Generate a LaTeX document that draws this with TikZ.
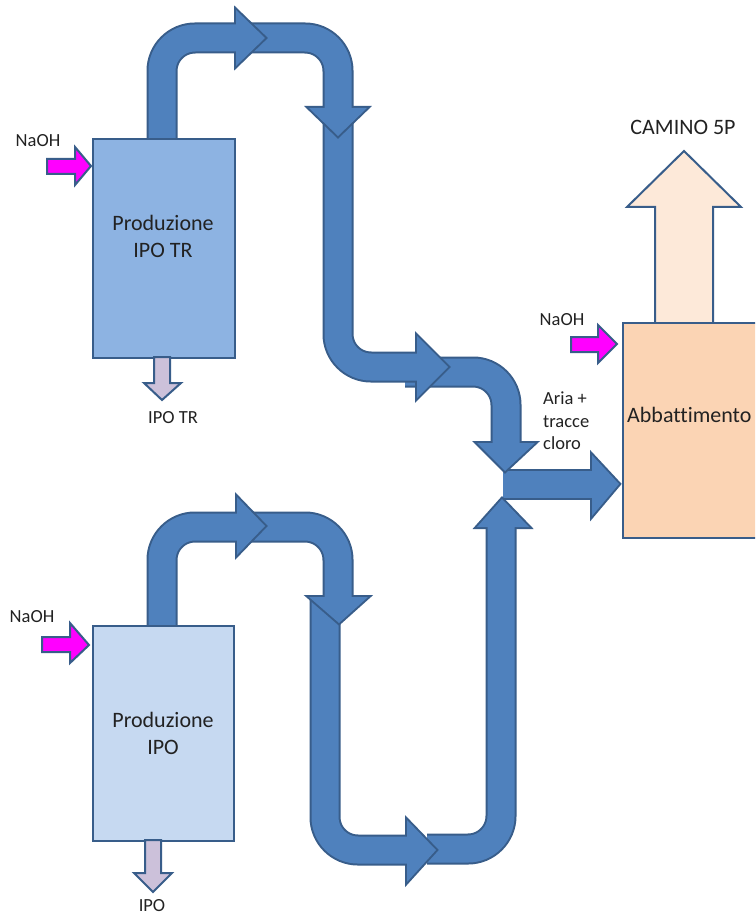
\documentclass[tikz,border=0pt]{standalone}
\usepackage{fontspec}
\setmainfont{Carlito}[Ligatures=NoCommon, RawFeature={-liga;-clig;-calt}]
\definecolor{pipefill}{HTML}{4F81BD}
\definecolor{pipeline}{HTML}{385D8A}
\definecolor{boxA}{HTML}{8DB3E2}
\definecolor{boxB}{HTML}{C6D9F1}
\definecolor{abbfill}{HTML}{FBD4B4}
\definecolor{camfill}{HTML}{FDE9D9}
\definecolor{naohfill}{HTML}{FF00FF}
\definecolor{ipofill}{HTML}{CCC1DA}
\definecolor{txt}{HTML}{222222}
\newcommand{\bentpipe}[2]{%
  \draw[line width=31pt, pipeline, rounded corners=33pt] #1;
  \filldraw[pipeline, line width=4pt, line join=miter] #2 -- cycle;
  \draw[line width=27pt, pipefill, rounded corners=33pt] #1;
  \fill[pipefill] #2 -- cycle;
}
\tikzset{
  unitbox/.style={draw=pipeline, line width=2pt},
  smallarrow/.style={draw=pipeline, line width=2pt, line join=miter},
  bigtext/.style={text=txt, font=\fontsize{22}{27}\selectfont, align=center, inner sep=0pt},
  smalltext/.style={text=txt, font=\fontsize{18.5}{22.5}\selectfont, inner sep=0pt},
}
\begin{document}
\begin{tikzpicture}[x=1pt,y=-1pt]
\clip (0,0) rectangle (755,917);
\fill[white] (0,0) rectangle (755,917);

% output arrow towards Abbattimento
\bentpipe{(503,484) -- (592,484)}{(592,455) -- (619,484) -- (592,516)}
% upper line
\bentpipe{(405,372) -- (506,372) -- (506,443)}{(477,443) -- (505,471) -- (535,443)}
\bentpipe{(338,106) -- (338,367) -- (417,367)}{(417,336) -- (448,367) -- (417,398)}
\bentpipe{(250,38) -- (338,38) -- (338,108)}{(309,108) -- (338,136) -- (367,108)}
\bentpipe{(162,140) -- (162,38) -- (236,38)}{(236,10) -- (265,38) -- (236,66)}
% lower line
\bentpipe{(427,849) -- (501,849) -- (501,527)}{(477,527) -- (502,499) -- (529,527)}
\bentpipe{(325,595) -- (325,850) -- (407,850)}{(407,820) -- (436,850) -- (407,882)}
\bentpipe{(250,527) -- (338,527) -- (338,597)}{(309,597) -- (339,623) -- (368,597)}
\bentpipe{(162,627) -- (162,527) -- (237,527)}{(237,497) -- (265,526) -- (237,555)}

% Camino arrow
\draw[smallarrow, fill=camfill] (655,323) -- (655,207) -- (627,207) -- (684,151) -- (741,207) -- (713,207) -- (713,323) -- cycle;

% boxes
\node[unitbox, fill=boxA, minimum width=142pt, minimum height=219pt, anchor=north west, inner sep=0pt] (boxtr) at (92,138) {};
\node[unitbox, fill=boxB, minimum width=141pt, minimum height=215pt, anchor=north west, inner sep=0pt] (boxipo) at (92,625) {};
\node[unitbox, fill=abbfill, minimum width=160pt, minimum height=215pt, anchor=north west, inner sep=0pt] (abb) at (622,322) {};

% NaOH arrows
\draw[smallarrow, fill=naohfill] (47,159) -- (75,159) -- (75,147) -- (91,166) -- (75,185) -- (75,174) -- (47,174) -- cycle;
\draw[smallarrow, fill=naohfill] (42,637) -- (70,637) -- (70,623) -- (89,645) -- (70,663) -- (70,652) -- (42,652) -- cycle;
\draw[smallarrow, fill=naohfill] (571,337) -- (598,337) -- (598,325) -- (617,344) -- (598,363) -- (598,352) -- (571,352) -- cycle;

% product arrows
\draw[smallarrow, fill=ipofill] (154,357) -- (154,383) -- (144,383) -- (162,400) -- (181,383) -- (170,383) -- (170,357) -- cycle;
\draw[smallarrow, fill=ipofill] (145,840) -- (145,873) -- (134,873) -- (153,892) -- (172,873) -- (161,873) -- (161,840) -- cycle;

% texts
\node[bigtext] (ttr) at (163,236) {Produzione\\IPO TR};
\node[bigtext] (tipo) at (163,733) {Produzione\\IPO};
\node[bigtext, anchor=west] (tabb) at (627,415) {Abbattimento};
\node[bigtext] (tcam) at (683,127) {CAMINO 5P};
\node[smalltext] (n1) at (38,141) {NaOH};
\node[smalltext] (n2) at (32,617) {NaOH};
\node[smalltext] (n3) at (562,320) {NaOH};
\node[smalltext] (ltr) at (173,418) {IPO TR};
\node[smalltext] (lipo) at (152,906) {IPO};
\node[smalltext, align=left, anchor=west] (aria) at (543,421) {Aria +\\tracce\\cloro};
\end{tikzpicture}
\end{document}
